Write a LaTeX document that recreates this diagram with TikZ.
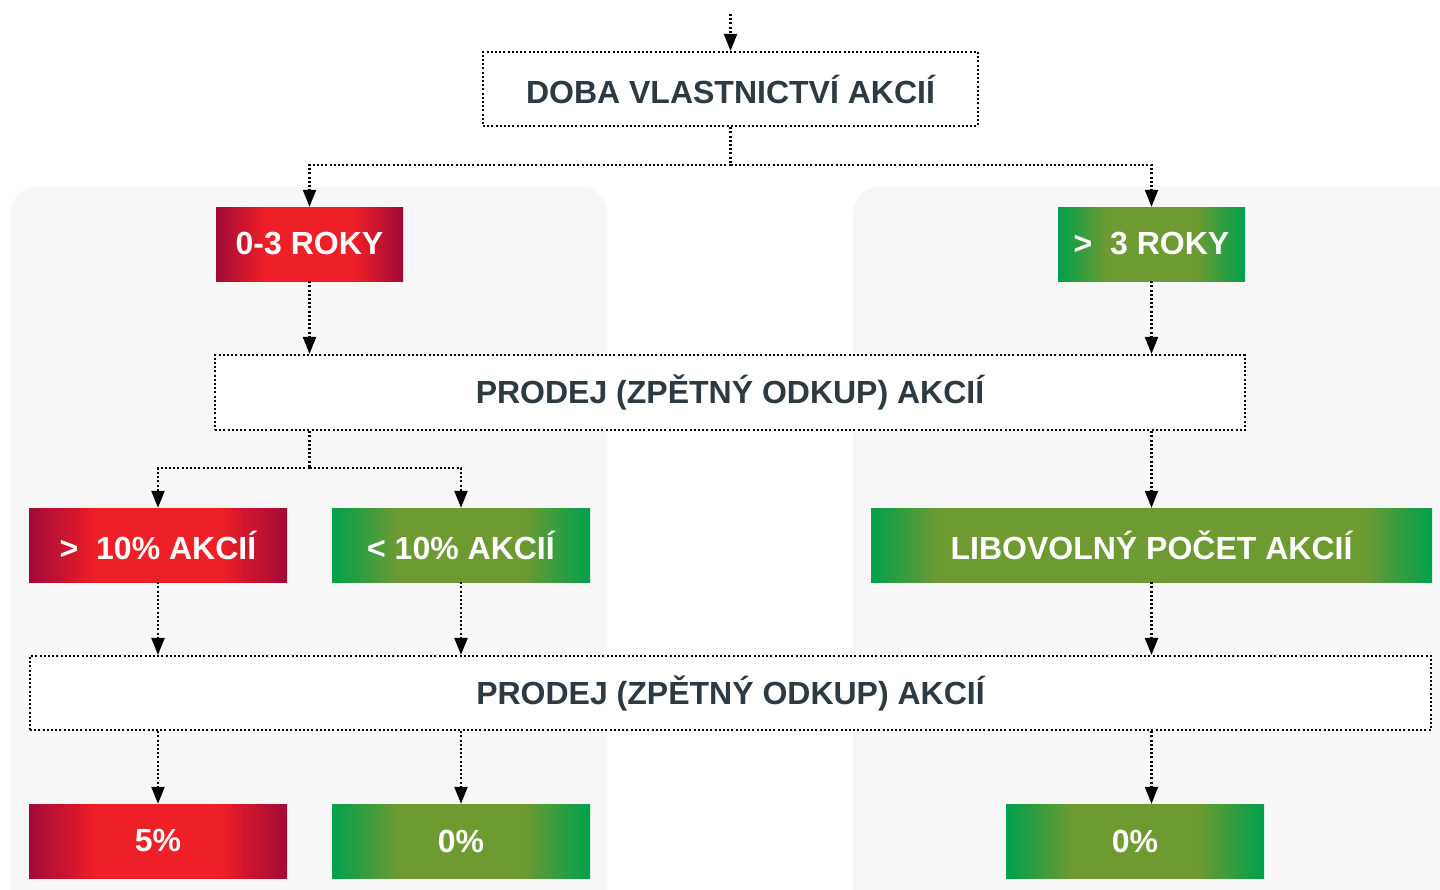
\documentclass[tikz,border=0pt]{standalone}
\usepackage{fontspec}
\setmainfont{Liberation Sans}
\usetikzlibrary{arrows.meta}
\definecolor{panelgray}{HTML}{F7F7F7}
\definecolor{txtdark}{HTML}{2D3A42}
\definecolor{redc}{HTML}{EE1F26}
\definecolor{redd}{HTML}{A00A38}
\definecolor{grc}{HTML}{6E9A32}
\definecolor{grd}{HTML}{00A14B}
\pgfdeclarehorizontalshading{redsh}{100bp}{color(0bp)=(redd); color(25bp)=(redd); color(38bp)=(redc); color(62bp)=(redc); color(75bp)=(redd); color(100bp)=(redd)}
\pgfdeclarehorizontalshading{grsh}{100bp}{color(0bp)=(grd); color(25bp)=(grd); color(38bp)=(grc); color(62bp)=(grc); color(75bp)=(grd); color(100bp)=(grd)}
\pgfdeclarehorizontalshading{grwide}{100bp}{color(0bp)=(grd); color(25bp)=(grd); color(31bp)=(grc); color(69bp)=(grc); color(75bp)=(grd); color(100bp)=(grd)}
\tikzset{
  dotline/.style={line width=2.2pt, dash pattern=on 2pt off 2.2pt, black},
  arr/.style={dotline, -{Triangle[width=13pt,length=17pt]}},
  plainline/.style={dotline},
  dotbox/.style={draw, dotline, fill=white, minimum height=74pt, inner sep=0pt,
     font=\bfseries\fontsize{32}{32}\selectfont, text=txtdark},
  redbox/.style={shading=redsh, minimum height=74pt, inner sep=0pt,
     font=\bfseries\fontsize{32}{32}\selectfont, text=white},
  grbox/.style={shading=grsh, minimum height=74pt, inner sep=0pt,
     font=\bfseries\fontsize{32}{32}\selectfont, text=white},
  panel/.style={fill=panelgray, rounded corners=26pt}
}
\begin{document}
\begin{tikzpicture}[x=1pt,y=-1pt]
\useasboundingbox (0,0) rectangle (1440,889);
\fill[white] (0,0) rectangle (1440,889);
% panels
\begin{scope}
\clip (0,0) rectangle (1440,889);
\fill[panel] (11,187) rectangle (607,920);
\fill[panel] (853,187) rectangle (1480,920);
\end{scope}
% nodes
\node[dotbox, minimum width=495pt] (doba) at (730.5,89) {DOBA VLASTNICTVÍ AKCIÍ};
\node[redbox, minimum width=187pt] (r03) at (309.5,244) {0-3 ROKY};
\node[grbox, minimum width=187pt] (r3) at (1151.5,244) {>\ \ 3 ROKY};
\node[dotbox, minimum width=1030pt, minimum height=75pt] (prodA) at (730,392.5) {PRODEJ (ZPĚTNÝ ODKUP) AKCIÍ};
\node[redbox, minimum width=258pt] (g10) at (158,545) {>\ \ 10\% AKCIÍ};
\node[grbox, minimum width=258pt] (l10) at (461,545) {< 10\% AKCIÍ};
\node[grbox, shading=grwide, minimum width=561pt] (lib) at (1151.5,545) {LIBOVOLNÝ POČET AKCIÍ};
\node[dotbox, minimum width=1401pt] (prodB) at (730.5,693) {PRODEJ (ZPĚTNÝ ODKUP) AKCIÍ};
\node[redbox, minimum width=258pt] (p5) at (158,841) {5\%};
\node[grbox, minimum width=258pt] (p0a) at (461,841) {0\%};
\node[grbox, minimum width=258pt] (p0b) at (1135,841) {0\%};
% connectors
\coordinate (topin) at (730.5,14);
\draw[arr] (topin) -- (doba.north);
\coordinate (split1) at (730.5,165);
\draw[plainline] (doba.south) -- (split1);
\draw[arr] (split1) -| (r03.north);
\draw[arr] (split1) -| (r3.north);
\draw[arr] (r03.south) -- (r03.south |- prodA.north);
\draw[arr] (r3.south) -- (r3.south |- prodA.north);
\coordinate (split2) at (309.5,468);
\draw[plainline] (r03.south |- prodA.south) -- (split2);
\draw[arr] (split2) -| (g10.north);
\draw[arr] (split2) -| (l10.north);
\draw[arr] (r3.south |- prodA.south) -- (lib.north);
\draw[arr] (g10.south) -- (g10.south |- prodB.north);
\draw[arr] (l10.south) -- (l10.south |- prodB.north);
\draw[arr] (lib.south) -- (lib.south |- prodB.north);
\draw[arr] (prodB.south -| p5) -- (p5.north);
\draw[arr] (prodB.south -| p0a) -- (p0a.north);
\draw[arr] (lib.south |- prodB.south) -- (lib.south |- p0b.north);
\end{tikzpicture}
\end{document}
